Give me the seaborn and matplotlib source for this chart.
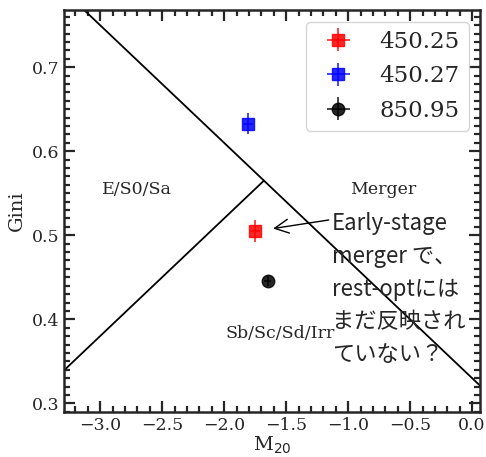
import numpy as np
import matplotlib
matplotlib.use("Agg")
import matplotlib.pyplot as plt
import seaborn as sns

sns.set_style("ticks")
plt.rcParams['font.family'] = ['DejaVu Serif']
plt.rcParams['mathtext.fontset'] = 'dejavusans'

# measured points (M20, Gini) with errors
names = ["450.25", "450.27", "850.95"]
m20 = [-1.75, -1.81, -1.65]
gini = [0.505, 0.633, 0.446]
m20_err = [0.04, 0.04, 0.03]
gini_err = [0.013, 0.013, 0.006]
colors = ["red", "blue", "black"]
markers = ["s", "s", "o"]

# classification boundaries (Lotz et al. 2008), endpoints
merger_m20 = [-3.5, 0.1]
merger_gini = [0.82, 0.316]
class_m20 = [-3.5, -1.679]
class_gini = [0.31, 0.565]

fig, ax = plt.subplots(1, 1, figsize=(4.86, 4.57), dpi=100)

sns.lineplot(x=merger_m20, y=merger_gini, color="black", lw=1.3, ax=ax)
sns.lineplot(x=class_m20, y=class_gini, color="black", lw=1.3, ax=ax)

for n, x, y, xe, ye, c, mk in zip(names, m20, gini, m20_err, gini_err, colors, markers):
    ax.errorbar(x, y, xerr=xe, yerr=ye, fmt=mk, color=c, ms=9, alpha=0.85,
                elinewidth=1.2, label=n)

ax.text(-2.70, 0.554, "E/S0/Sa", ha="center", va="center", fontsize=12.5)
ax.text(-0.72, 0.554, "Merger", ha="center", va="center", fontsize=12.5)
ax.text(-1.55, 0.383, "Sb/Sc/Sd/Irr", ha="center", va="center", fontsize=12.5)

ax.annotate("Early-stage\nmerger で、\nrest-optには\nまだ反映され\nていない？",
            xy=(-1.605, 0.508), xytext=(-1.13, 0.528),
            ha="left", va="top", fontsize=16, linespacing=1.55,
            family=['Noto Sans CJK JP', 'DejaVu Sans'],
            arrowprops=dict(arrowstyle="->", color="black", lw=1.0,
                            mutation_scale=25, shrinkA=0, shrinkB=0,
                            relpos=(0, 0.95)),
            annotation_clip=False)

ax.set_xlim(-3.29, 0.065)
ax.set_ylim(0.29, 0.768)
ax.set_xticks(np.arange(-3.0, 0.01, 0.5))
ax.set_yticks([0.3, 0.4, 0.5, 0.6, 0.7])
ax.set_xticks(np.arange(-3.2, 0.06, 0.1), minor=True)
ax.set_yticks(np.arange(0.29, 0.768, 0.01), minor=True)
ax.tick_params(which="both", direction="in", top=True, right=True, width=1.6, labelsize=12.5)
ax.tick_params(which="major", length=8)
ax.tick_params(which="minor", length=4)
for s in ax.spines.values():
    s.set_linewidth(1.8)

ax.set_xlabel(r"M$_{20}$", fontsize=14, labelpad=1)
ax.set_ylabel("Gini", fontsize=14)
ax.legend(loc="upper right", fontsize=16.5, handlelength=2.0, borderpad=0.4,
          labelspacing=0.55, handletextpad=0.8)

fig.subplots_adjust(left=0.132, right=0.988, top=0.978, bottom=0.099)
fig.savefig("out.png", dpi=100)
